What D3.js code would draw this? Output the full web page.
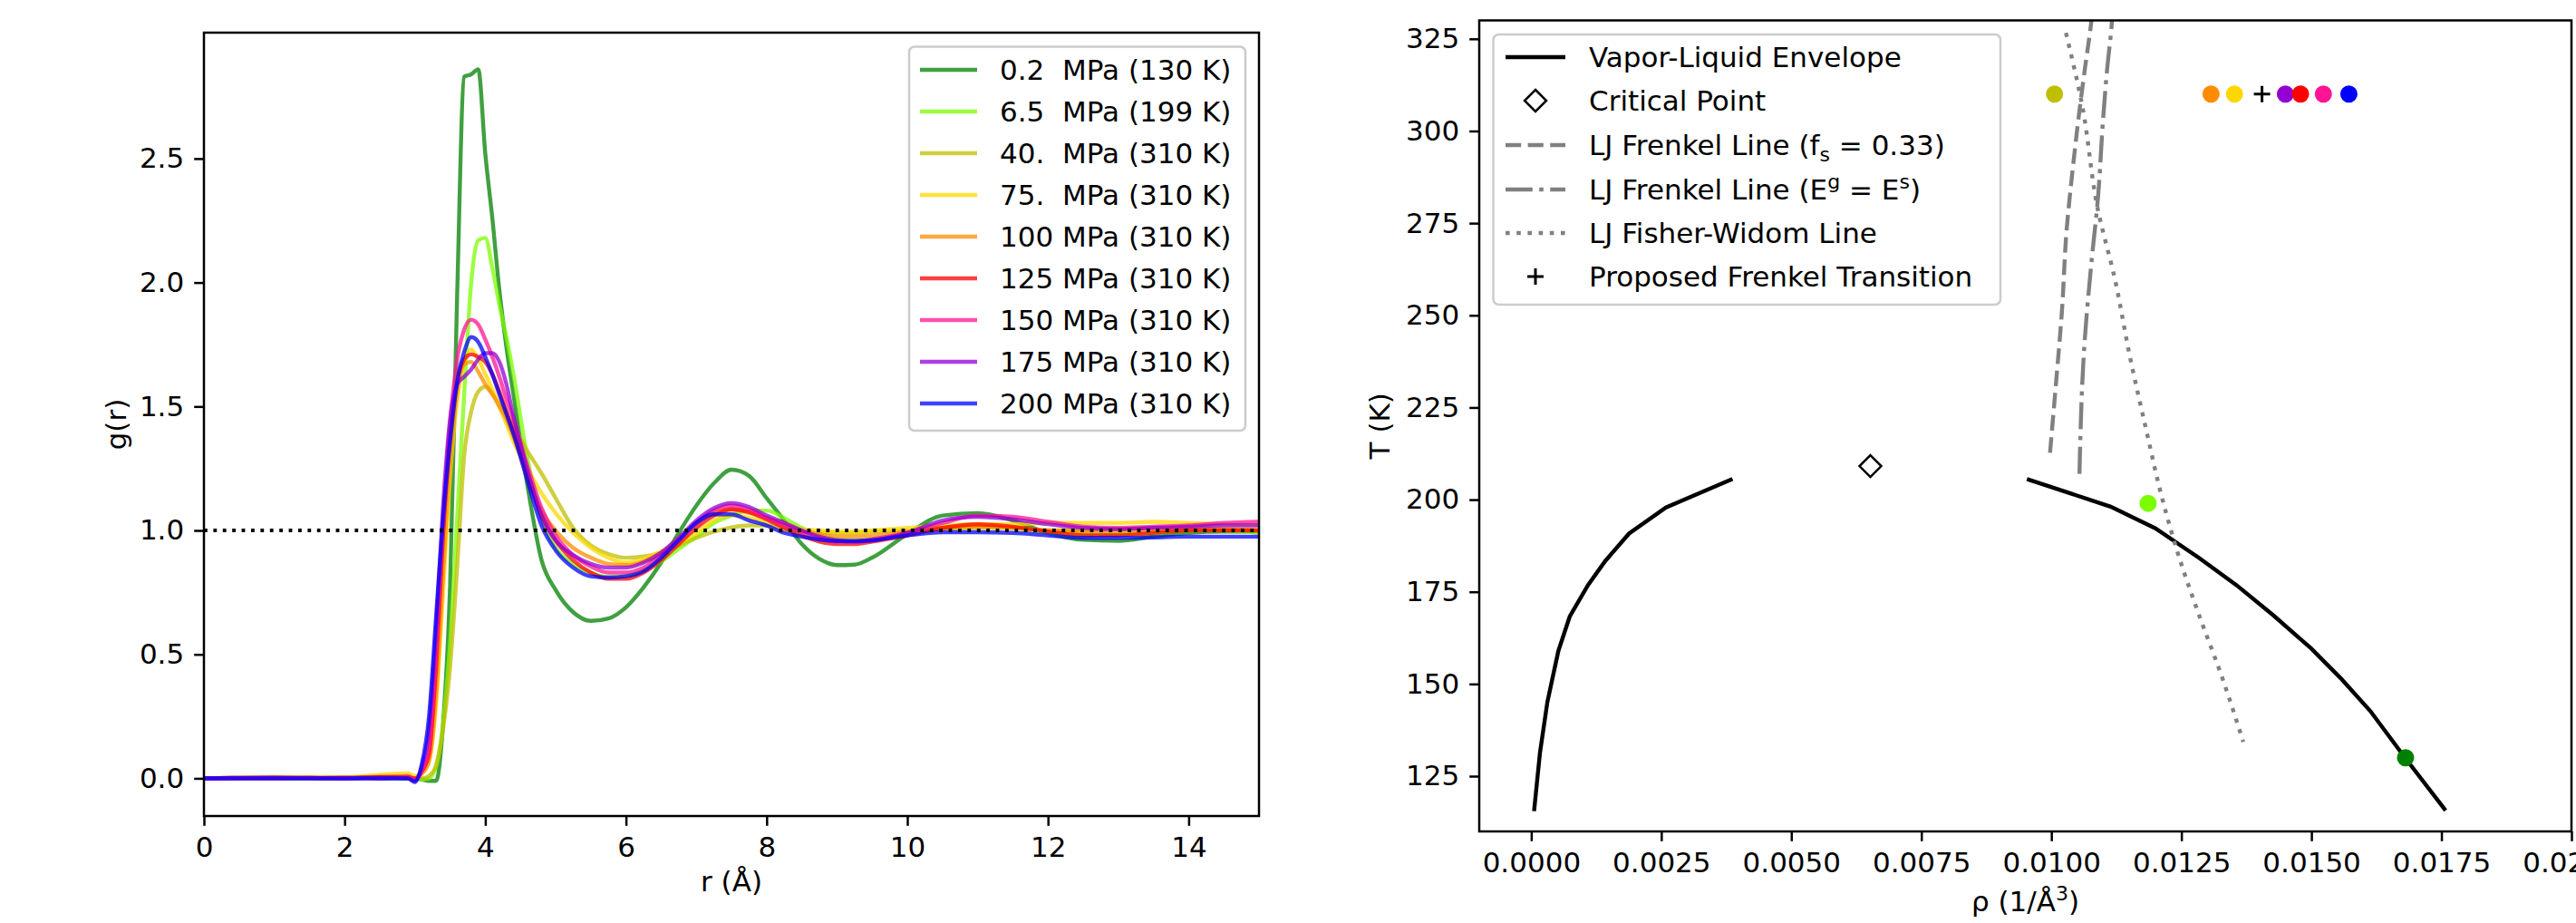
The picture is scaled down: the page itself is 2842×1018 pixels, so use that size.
<!DOCTYPE html>
<html>
<head>
<meta charset="utf-8">
<script src="https://cdn.jsdelivr.net/npm/d3@7"></script>
<style>
  body { margin: 0; background: #fff; }
  svg { display: block; }
</style>
</head>
<body>
<div id="chart"></div>
<script>

// ---- radial distribution functions, g(r) ----
var rValues = [0, 1, 2, 2.5, 2.9, 3.0, 3.1, 3.2, 3.3, 3.4, 3.5, 3.6, 3.7, 3.8, 3.9, 4.0, 4.1, 4.2, 4.3, 4.4,
  4.6, 4.8, 5.0, 5.25, 5.5, 5.75, 6.0, 6.25, 6.5, 6.75, 7.0, 7.25, 7.5, 7.75, 8.0, 8.25, 8.5, 8.75, 9.0, 9.25, 9.5,
  10.0, 10.5, 11.0, 11.5, 12.0, 12.5, 13.0, 13.5, 14.0, 14.5, 15.0];

var g0p2 = [0, 0, 0.002, 0, 0, 0, -0.005, -0.01, -0.01, 0.22, 0.78, 1.95, 2.83, 2.84, 2.86, 2.52, 2.26, 1.97, 1.74, 1.55,
  1.18, 0.88, 0.76, 0.67, 0.635, 0.645, 0.69, 0.77, 0.87, 0.99, 1.10, 1.19, 1.245, 1.22, 1.13, 1.04, 0.945, 0.885, 0.86, 0.862, 0.89,
  0.985, 1.06, 1.07, 1.04, 0.99, 0.962, 0.958, 0.975, 0.99, 0.995, 0.995];
var g6p5 = [0, 0, 0, 0.003, 0, 0, -0.005, 0, 0.05, 0.22, 0.55, 1.05, 1.55, 2.0, 2.17, 2.18, 2.06, 1.91, 1.78, 1.63,
  1.29, 1.05, 0.93, 0.865, 0.83, 0.812, 0.815, 0.84, 0.875, 0.925, 0.975, 1.03, 1.06, 1.08, 1.08, 1.05, 1.01, 0.98, 0.965, 0.96, 0.965,
  0.99, 1.01, 1.02, 1.01, 0.99, 0.98, 0.985, 0.99, 1.0, 1.0, 0.99];
var g40 = [0, 0.003, 0, 0.005, 0.005, 0, 0, 0.01, 0.05, 0.2, 0.45, 0.85, 1.3, 1.48, 1.56, 1.58, 1.55, 1.51, 1.465, 1.42,
  1.32, 1.23, 1.13, 1.01, 0.94, 0.905, 0.89, 0.895, 0.91, 0.94, 0.97, 0.995, 1.012, 1.02, 1.02, 1.005, 0.995, 0.99, 0.99, 0.99, 0.995,
  1.0, 1.005, 1.01, 1.01, 1.0, 1.0, 1.005, 1.01, 1.01, 1.005, 1.0];
var g75 = [0, 0.005, 0.005, 0.015, 0.02, 0.01, 0.02, 0.07, 0.3, 0.75, 1.22, 1.52, 1.68, 1.73, 1.69, 1.63, 1.57, 1.5, 1.43, 1.36,
  1.25, 1.15, 1.07, 0.99, 0.93, 0.89, 0.87, 0.885, 0.915, 0.95, 0.99, 1.04, 1.062, 1.05, 1.035, 1.02, 1.005, 1.0, 0.995, 0.995, 1.0,
  1.01, 1.02, 1.025, 1.025, 1.03, 1.03, 1.03, 1.035, 1.03, 1.025, 1.02];
var g100 = [0, 0, 0.003, 0.005, 0.01, 0, 0.02, 0.07, 0.33, 0.82, 1.28, 1.56, 1.67, 1.68, 1.64, 1.59, 1.55, 1.5, 1.45, 1.38,
  1.22, 1.08, 1.0, 0.93, 0.89, 0.865, 0.86, 0.875, 0.91, 0.97, 1.03, 1.07, 1.085, 1.07, 1.05, 1.03, 1.0, 0.985, 0.975, 0.975, 0.98,
  0.995, 1.01, 1.015, 1.01, 1.0, 0.995, 0.995, 1.0, 1.005, 1.005, 1.0];
var g125 = [0, 0.003, 0, 0.005, 0.005, 0, 0.03, 0.1, 0.45, 0.98, 1.38, 1.6, 1.69, 1.71, 1.7, 1.68, 1.63, 1.56, 1.48, 1.40,
  1.22, 1.06, 0.96, 0.88, 0.83, 0.805, 0.805, 0.83, 0.88, 0.945, 1.01, 1.06, 1.085, 1.075, 1.045, 1.01, 0.98, 0.955, 0.945, 0.945, 0.955,
  0.98, 1.01, 1.025, 1.015, 0.995, 0.98, 0.98, 0.99, 1.0, 1.0, 1.0];
var g150 = [0, 0, 0.003, 0, 0.005, -0.005, 0.03, 0.12, 0.5, 1.03, 1.43, 1.69, 1.81, 1.85, 1.83, 1.77, 1.7, 1.62, 1.53, 1.45,
  1.26, 1.09, 0.98, 0.9, 0.855, 0.83, 0.83, 0.85, 0.9, 0.96, 1.03, 1.08, 1.10, 1.085, 1.05, 1.02, 0.995, 0.97, 0.955, 0.955, 0.965,
  0.99, 1.03, 1.06, 1.055, 1.035, 1.015, 1.01, 1.015, 1.02, 1.03, 1.035];
var g175 = [0, 0.003, 0, 0.003, 0, -0.01, 0.05, 0.2, 0.6, 1.1, 1.45, 1.59, 1.62, 1.65, 1.69, 1.715, 1.715, 1.68, 1.59, 1.46,
  1.24, 1.06, 0.96, 0.9, 0.865, 0.85, 0.85, 0.87, 0.91, 0.97, 1.04, 1.09, 1.11, 1.095, 1.06, 1.03, 1.0, 0.975, 0.96, 0.955, 0.96,
  0.99, 1.04, 1.055, 1.045, 1.025, 1.01, 1.005, 1.01, 1.015, 1.02, 1.02];
var g200 = [0, 0, 0, 0, 0, -0.015, 0.06, 0.25, 0.65, 1.05, 1.36, 1.6, 1.72, 1.78, 1.76, 1.70, 1.63, 1.55, 1.47, 1.39,
  1.2, 1.02, 0.92, 0.85, 0.815, 0.81, 0.815, 0.835, 0.89, 0.96, 1.03, 1.065, 1.065, 1.04, 1.02, 0.99, 0.975, 0.963, 0.957, 0.957, 0.96,
  0.98, 0.993, 0.993, 0.99, 0.98, 0.97, 0.97, 0.972, 0.975, 0.975, 0.975];

var gSeries = [g0p2, g6p5, g40, g75, g100, g125, g150, g175, g200];
var seriesLabels = ['0.2  MPa (130 K)', '6.5  MPa (199 K)', '40.  MPa (310 K)', '75.  MPa (310 K)', '100 MPa (310 K)',
  '125 MPa (310 K)', '150 MPa (310 K)', '175 MPa (310 K)', '200 MPa (310 K)'];
var seriesColors = ['#008000', '#7cfc00', '#bfbf00', '#ffd700', '#ff8c00', '#ff0000', '#ff1493', '#9400d3', '#0000ff'];
var rTicks = [0, 2, 4, 6, 8, 10, 12, 14];
var gTicks = [0, 0.5, 1.0, 1.5, 2.0, 2.5];

// ---- phase diagram ----
var vaporRho = [0.000054, 0.000167, 0.00031, 0.00052, 0.00074, 0.00109, 0.00142, 0.00188, 0.00259, 0.00387];
var vaporT = [115.5, 131.3, 145.1, 158.9, 168.3, 176.8, 183.3, 190.8, 197.9, 205.6];
var liquidRho = [0.00953, 0.01114, 0.0120, 0.01285, 0.01356, 0.01427, 0.01499, 0.01556, 0.01613, 0.01681, 0.01758];
var liquidT = [205.6, 198.1, 192.2, 184.1, 176.8, 168.6, 159.7, 151.6, 142.7, 129.8, 115.7];
var criticalRho = [0.00652];
var criticalT = [209.1];
var frenkelFsRho = [0.009974, 0.01009, 0.010205, 0.01029, 0.01041, 0.010524, 0.01064, 0.01077, 0.01081];
var frenkelFsT = [212.7, 231.7, 251.5, 272.6, 289.6, 303.7, 316.4, 329.8, 335];
var frenkelERho = [0.01054, 0.01064, 0.01076, 0.0109, 0.01099, 0.01107, 0.01116, 0.01119];
var frenkelET = [207.0, 243.0, 262.8, 282.5, 302.3, 316.4, 328.8, 335];
var fisherWidomRho = [0.01028, 0.01058, 0.0109, 0.01122, 0.01151, 0.0118, 0.01215, 0.01244, 0.01285, 0.01326, 0.01369];
var fisherWidomT = [326.6, 307.9, 278.3, 259.9, 238.8, 220.4, 199.3, 185.1, 168.3, 152.7, 134.3];
// state points, same order and colours as the g(r) series
var stateRho = [0.01681, 0.01186, 0.01006, 0.01352, 0.01307, 0.01479, 0.01523, 0.0145, 0.01572];
var stateT = [130, 199, 310, 310, 310, 310, 310, 310, 310];
var stateDrawOrder = [0, 1, 2, 3, 4, 7, 5, 6, 8];
var transitionRho = [0.01405];
var transitionT = [310];
var rhoTicks = [0, 0.0025, 0.005, 0.0075, 0.01, 0.0125, 0.015, 0.0175, 0.02];
var tTicks = [125, 150, 175, 200, 225, 250, 275, 300, 325];

var W = 2842, H = 1018;
var FONT = '"DejaVu Sans", sans-serif';
var FS = 31;
var TICK = 10.8;
var LW = 4.4;

var svg = d3.select('#chart').append('svg')
  .attr('width', W)
  .attr('height', H)
  .style('font-family', FONT);

function styleAxis(g) {
  g.attr('font-family', FONT).attr('font-size', FS);
  g.select('.domain').remove();
  g.selectAll('.tick line').attr('stroke', '#000').attr('stroke-width', 2.5);
  g.selectAll('.tick text').attr('fill', '#000');
}

function addClip(id, x0, y0, x1, y1) {
  svg.append('clipPath').attr('id', id)
    .append('rect').attr('x', x0).attr('y', y0).attr('width', x1 - x0).attr('height', y1 - y0);
}

function spines(x0, y0, x1, y1) {
  svg.append('rect')
    .attr('x', x0).attr('y', y0).attr('width', x1 - x0).attr('height', y1 - y0)
    .attr('fill', 'none').attr('stroke', '#000').attr('stroke-width', 2.5);
}

function legendFrame(x0, y0, x1, y1) {
  svg.append('rect')
    .attr('x', x0).attr('y', y0).attr('width', x1 - x0).attr('height', y1 - y0)
    .attr('rx', 6).attr('ry', 6)
    .attr('fill', '#fff').attr('fill-opacity', 0.8)
    .attr('stroke', '#cccccc').attr('stroke-width', 2.5);
}

// ================= left panel: g(r) =================
var L = { x0: 225, x1: 1389, y0: 36, y1: 900 };
var xr = d3.scaleLinear().domain([0, 15]).range([L.x0, L.x1]);
var yg = d3.scaleLinear().domain([-0.152, 3.008]).range([L.y1, L.y0]);

addClip('clipL', L.x0, L.y0, L.x1, L.y1);
var plotL = svg.append('g').attr('clip-path', 'url(#clipL)');

var gLine = d3.line()
  .x(function(d) { return xr(d[0]); })
  .y(function(d) { return yg(d[1]); })
  .curve(d3.curveMonotoneX);

gSeries.forEach(function(values, i) {
  plotL.append('path')
    .datum(rValues.map(function(r, j) { return [r, values[j]]; }))
    .attr('d', gLine)
    .attr('fill', 'none')
    .attr('stroke', seriesColors[i])
    .attr('stroke-opacity', 0.75)
    .attr('stroke-width', LW)
    .attr('stroke-linejoin', 'round');
});

plotL.append('line')
  .attr('x1', xr(0)).attr('x2', xr(15))
  .attr('y1', yg(1)).attr('y2', yg(1))
  .attr('stroke', '#000').attr('stroke-width', 3.8)
  .attr('stroke-dasharray', '3.8,6.6');

svg.append('g')
  .attr('transform', 'translate(0,' + L.y1 + ')')
  .call(d3.axisBottom(xr).tickValues(rTicks).tickSize(TICK).tickPadding(12).tickFormat(d3.format('d')))
  .call(styleAxis);
svg.append('g')
  .attr('transform', 'translate(' + L.x0 + ',0)')
  .call(d3.axisLeft(yg).tickValues(gTicks).tickSize(TICK).tickPadding(11).tickFormat(d3.format('.1f')))
  .call(styleAxis);
spines(L.x0, L.y0, L.x1, L.y1);

svg.append('text')
  .attr('x', (L.x0 + L.x1) / 2).attr('y', 983)
  .attr('text-anchor', 'middle').attr('font-size', FS)
  .text('r (Å)');
svg.append('text')
  .attr('transform', 'translate(139,' + ((L.y0 + L.y1) / 2) + ') rotate(-90)')
  .attr('text-anchor', 'middle').attr('font-size', FS)
  .text('g(r)');

// legend
legendFrame(1003, 51.5, 1374, 475);
var legL = svg.append('g').attr('font-size', FS);
seriesLabels.forEach(function(label, i) {
  var cy = 77 + i * 46;
  legL.append('line')
    .attr('x1', 1015).attr('x2', 1078).attr('y1', cy).attr('y2', cy)
    .attr('stroke', seriesColors[i]).attr('stroke-opacity', 0.75).attr('stroke-width', LW);
  legL.append('text')
    .attr('x', 1103).attr('y', cy).attr('dy', '0.36em')
    .style('white-space', 'pre')
    .text(label);
});

// ================= right panel: phase diagram =================
var R = { x0: 1632, x1: 2837, y0: 22.5, y1: 917 };
var xp = d3.scaleLinear().domain([-0.001, 0.02]).range([R.x0, R.x1]);
var yp = d3.scaleLinear().domain([110, 330]).range([R.y1, R.y0]);

addClip('clipR', R.x0, R.y0, R.x1, R.y1);
var plotR = svg.append('g').attr('clip-path', 'url(#clipR)');

function pairs(xs, ys) { return xs.map(function(v, i) { return [v, ys[i]]; }); }

var pLine = d3.line()
  .x(function(d) { return xp(d[0]); })
  .y(function(d) { return yp(d[1]); });

[pairs(vaporRho, vaporT), pairs(liquidRho, liquidT)].forEach(function(branch) {
  plotR.append('path').datum(branch).attr('d', pLine)
    .attr('fill', 'none').attr('stroke', '#000').attr('stroke-width', LW);
});

var diamondPath = 'M0,-12L12,0L0,12L-12,0Z';
var plusPath = 'M-9,0H9M0,-9V9';

plotR.selectAll('.critical')
  .data(pairs(criticalRho, criticalT))
  .enter().append('path')
  .attr('d', diamondPath)
  .attr('transform', function(d) { return 'translate(' + xp(d[0]) + ',' + yp(d[1]) + ')'; })
  .attr('fill', '#fff').attr('stroke', '#000').attr('stroke-width', 2.5);

var grayLines = [
  { data: pairs(frenkelFsRho, frenkelFsT), dash: '17.2,7.4' },
  { data: pairs(frenkelERho, frenkelET), dash: '29.8,7.4,4.6,7.4' },
  { data: pairs(fisherWidomRho, fisherWidomT), dash: '4.6,7.6' }
];
grayLines.forEach(function(l) {
  plotR.append('path').datum(l.data)
    .attr('d', pLine.curve(d3.curveMonotoneY))
    .attr('fill', 'none').attr('stroke', '#808080')
    .attr('stroke-width', LW).attr('stroke-dasharray', l.dash);
});
pLine.curve(d3.curveLinear);

plotR.selectAll('.state')
  .data(stateDrawOrder)
  .enter().append('circle')
  .attr('cx', function(i) { return xp(stateRho[i]); })
  .attr('cy', function(i) { return yp(stateT[i]); })
  .attr('r', 9.5)
  .attr('fill', function(i) { return seriesColors[i]; });

plotR.selectAll('.transition')
  .data(pairs(transitionRho, transitionT))
  .enter().append('path')
  .attr('d', plusPath)
  .attr('transform', function(d) { return 'translate(' + xp(d[0]) + ',' + yp(d[1]) + ')'; })
  .attr('stroke', '#000').attr('stroke-width', 3);

svg.append('g')
  .attr('transform', 'translate(0,' + R.y1 + ')')
  .call(d3.axisBottom(xp).tickValues(rhoTicks).tickSize(TICK).tickPadding(12).tickFormat(d3.format('.4f')))
  .call(styleAxis);
svg.append('g')
  .attr('transform', 'translate(' + R.x0 + ',0)')
  .call(d3.axisLeft(yp).tickValues(tTicks).tickSize(TICK).tickPadding(11).tickFormat(d3.format('d')))
  .call(styleAxis);
spines(R.x0, R.y0, R.x1, R.y1);

var xLab = svg.append('text')
  .attr('x', (R.x0 + R.x1) / 2).attr('y', 1005)
  .attr('text-anchor', 'middle').attr('font-size', FS);
xLab.append('tspan').text('ρ (1/Å');
xLab.append('tspan').attr('dy', -12).attr('font-size', 22).text('3');
xLab.append('tspan').attr('dy', 12).text(')');

svg.append('text')
  .attr('transform', 'translate(1533,' + ((R.y0 + R.y1) / 2) + ') rotate(-90)')
  .attr('text-anchor', 'middle').attr('font-size', FS)
  .text('T (K)');

// legend
legendFrame(1647.5, 38, 2207, 336);
var legR = svg.append('g').attr('font-size', FS);
var rowY = [63, 111, 160, 209, 257, 305];
var hx0 = 1661, hx1 = 1727, tx = 1753;

legR.append('line').attr('x1', hx0).attr('x2', hx1).attr('y1', rowY[0]).attr('y2', rowY[0])
  .attr('stroke', '#000').attr('stroke-width', LW);
legR.append('path').attr('d', diamondPath)
  .attr('transform', 'translate(' + ((hx0 + hx1) / 2) + ',' + rowY[1] + ')')
  .attr('fill', '#fff').attr('stroke', '#000').attr('stroke-width', 2.5);
grayLines.forEach(function(l, i) {
  legR.append('line').attr('x1', hx0).attr('x2', hx1).attr('y1', rowY[i + 2]).attr('y2', rowY[i + 2])
    .attr('stroke', '#808080').attr('stroke-width', LW).attr('stroke-dasharray', l.dash);
});
legR.append('path').attr('d', plusPath)
  .attr('transform', 'translate(' + ((hx0 + hx1) / 2) + ',' + rowY[5] + ')')
  .attr('stroke', '#000').attr('stroke-width', 3);

function legText(i) {
  return legR.append('text').attr('x', tx).attr('y', rowY[i]).attr('dy', '0.36em');
}
legText(0).text('Vapor-Liquid Envelope');
legText(1).text('Critical Point');
var t3 = legText(2);
t3.append('tspan').text('LJ Frenkel Line (f');
t3.append('tspan').attr('dy', 7).attr('font-size', 22).text('s');
t3.append('tspan').attr('dy', -7).text(' = 0.33)');
var t4 = legText(3);
t4.append('tspan').text('LJ Frenkel Line (E');
t4.append('tspan').attr('dy', -12).attr('font-size', 22).text('g');
t4.append('tspan').attr('dy', 12).text(' = E');
t4.append('tspan').attr('dy', -12).attr('font-size', 22).text('s');
t4.append('tspan').attr('dy', 12).text(')');
legText(4).text('LJ Fisher-Widom Line');
legText(5).text('Proposed Frenkel Transition');

</script>
</body>
</html>
